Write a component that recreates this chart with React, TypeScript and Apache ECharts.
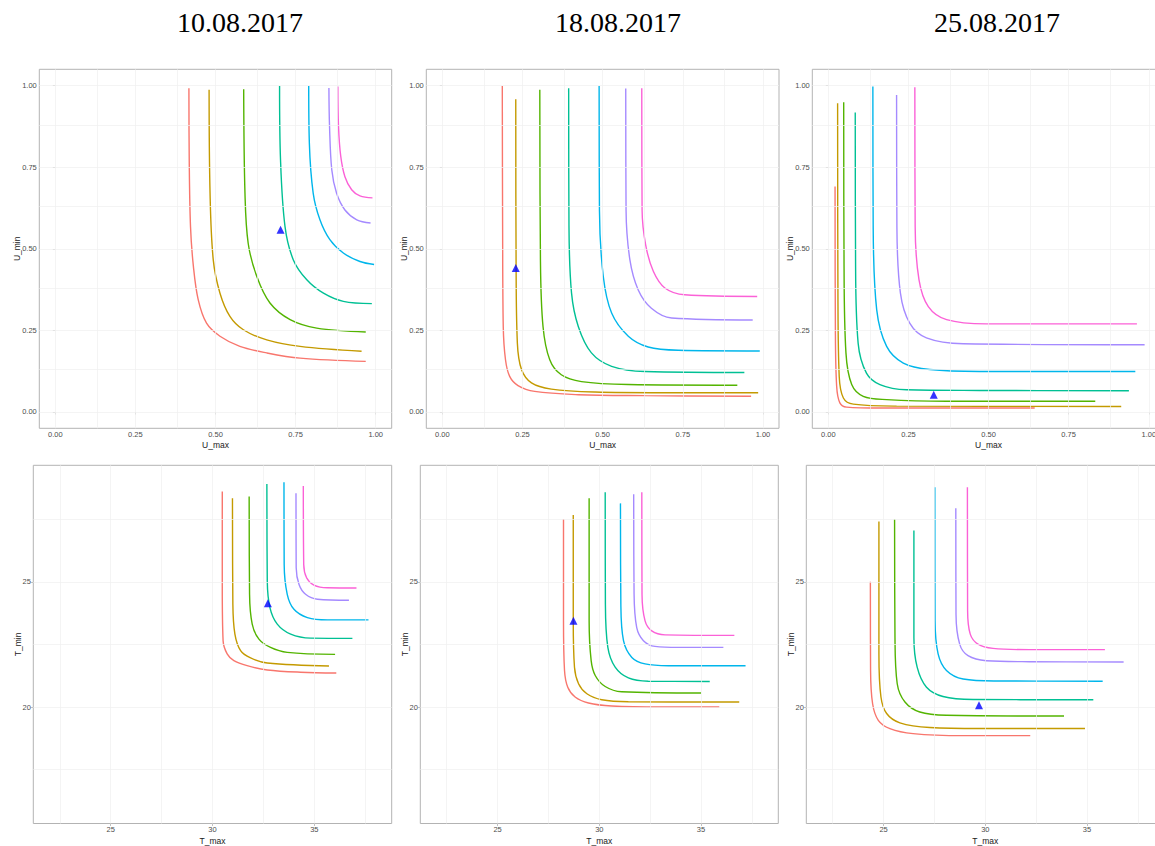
import React, { useEffect, useRef } from "react";
import * as echarts from "echarts";

// ---------- data ----------
const titles = ["10.08.2017", "18.08.2017", "25.08.2017"];
const curveColors = ["#F8766D", "#C49A00", "#53B400", "#00C094", "#00B6EB", "#A58AFF", "#FB61D7"];

const uTicks = [0, 0.25, 0.5, 0.75, 1];
const uGrid = [0, 0.125, 0.25, 0.375, 0.5, 0.625, 0.75, 0.875, 1];
const tTicksX = [25, 30, 35];
const tGridX = [22.5, 25, 27.5, 30, 32.5, 35, 37.5];
const tTicksY = [20, 25];
const tGridY = [17.5, 20, 22.5, 25, 27.5];

// U panels (U_max, U_min)
const u1008 = [
  [[0.417, 0.992], [0.418, 0.772], [0.422, 0.568], [0.431, 0.446], [0.446, 0.344], [0.472, 0.272], [0.514, 0.232], [0.576, 0.201], [0.66, 0.181], [0.764, 0.165], [0.969, 0.155]],
  [[0.48, 0.987], [0.483, 0.67], [0.493, 0.466], [0.514, 0.364], [0.545, 0.293], [0.587, 0.252], [0.66, 0.221], [0.764, 0.201], [0.956, 0.186]],
  [[0.588, 0.989], [0.592, 0.67], [0.602, 0.517], [0.629, 0.415], [0.67, 0.334], [0.733, 0.283], [0.816, 0.257], [0.969, 0.245]],
  [[0.7, 0.999], [0.703, 0.772], [0.717, 0.568], [0.743, 0.466], [0.785, 0.405], [0.837, 0.364], [0.899, 0.339], [0.988, 0.332]],
  [[0.791, 0.999], [0.793, 0.823], [0.805, 0.67], [0.826, 0.589], [0.857, 0.528], [0.899, 0.487], [0.951, 0.461], [0.995, 0.452]],
  [[0.854, 0.993], [0.856, 0.874], [0.863, 0.742], [0.878, 0.67], [0.904, 0.619], [0.941, 0.589], [0.984, 0.579]],
  [[0.882, 0.997], [0.884, 0.874], [0.891, 0.783], [0.904, 0.721], [0.925, 0.681], [0.951, 0.662], [0.99, 0.656]],
];
const u1808 = [
  [[0.187, 0.999], [0.188, 0.568], [0.19, 0.262], [0.197, 0.16], [0.21, 0.109], [0.236, 0.081], [0.288, 0.063], [0.424, 0.053], [0.632, 0.05], [0.963, 0.048]],
  [[0.229, 0.958], [0.23, 0.466], [0.234, 0.211], [0.247, 0.13], [0.278, 0.089], [0.34, 0.07], [0.476, 0.061], [0.684, 0.059], [0.985, 0.059]],
  [[0.304, 0.987], [0.306, 0.466], [0.314, 0.262], [0.335, 0.16], [0.371, 0.114], [0.434, 0.093], [0.58, 0.084], [0.92, 0.082]],
  [[0.394, 0.992], [0.395, 0.568], [0.403, 0.364], [0.424, 0.262], [0.465, 0.181], [0.528, 0.14], [0.632, 0.124], [0.942, 0.121]],
  [[0.489, 0.999], [0.49, 0.619], [0.502, 0.415], [0.528, 0.303], [0.58, 0.232], [0.642, 0.199], [0.736, 0.189], [0.99, 0.187]],
  [[0.572, 0.991], [0.573, 0.619], [0.585, 0.466], [0.611, 0.374], [0.652, 0.318], [0.715, 0.288], [0.968, 0.282]],
  [[0.622, 0.992], [0.623, 0.619], [0.634, 0.513], [0.658, 0.431], [0.694, 0.38], [0.756, 0.359], [0.982, 0.354]],
];
const u2508 = [
  [[0.021, 0.691], [0.022, 0.262], [0.026, 0.079], [0.036, 0.028], [0.057, 0.015], [0.161, 0.012], [0.644, 0.012]],
  [[0.029, 0.946], [0.03, 0.364], [0.034, 0.109], [0.047, 0.043], [0.078, 0.024], [0.213, 0.018], [0.914, 0.017]],
  [[0.048, 0.949], [0.049, 0.466], [0.055, 0.181], [0.073, 0.084], [0.109, 0.048], [0.182, 0.038], [0.369, 0.033], [0.833, 0.033]],
  [[0.084, 0.918], [0.085, 0.466], [0.093, 0.211], [0.119, 0.119], [0.161, 0.084], [0.244, 0.068], [0.472, 0.066], [0.938, 0.065]],
  [[0.139, 0.997], [0.14, 0.568], [0.151, 0.313], [0.182, 0.201], [0.234, 0.15], [0.317, 0.13], [0.472, 0.124], [0.958, 0.124]],
  [[0.213, 0.971], [0.214, 0.568], [0.225, 0.364], [0.254, 0.272], [0.306, 0.227], [0.421, 0.209], [0.987, 0.206]],
  [[0.27, 0.995], [0.271, 0.568], [0.283, 0.405], [0.312, 0.323], [0.369, 0.283], [0.493, 0.27], [0.963, 0.27]],
];

// T panels (T_max, T_min)
const t1008 = [
  [[30.48, 28.6], [30.48, 24.76], [30.52, 22.65], [30.72, 22.12], [31.05, 21.85], [31.7, 21.65], [32.69, 21.48], [34.33, 21.39], [36.08, 21.36]],
  [[30.98, 28.33], [31.0, 24.1], [31.1, 22.91], [31.38, 22.25], [31.87, 21.96], [32.69, 21.76], [35.72, 21.64]],
  [[31.8, 28.4], [31.82, 24.5], [31.95, 23.31], [32.28, 22.71], [32.85, 22.38], [33.67, 22.18], [36.02, 22.1]],
  [[32.67, 28.9], [32.69, 25.03], [32.82, 23.97], [33.18, 23.31], [33.84, 22.91], [34.82, 22.75], [36.87, 22.74]],
  [[33.51, 28.97], [33.52, 25.69], [33.67, 24.5], [34.0, 23.9], [34.66, 23.57], [35.64, 23.48], [37.66, 23.48]],
  [[34.1, 28.53], [34.11, 25.56], [34.25, 24.89], [34.57, 24.5], [35.15, 24.3], [36.7, 24.26]],
  [[34.46, 28.82], [34.48, 25.69], [34.62, 25.16], [34.98, 24.87], [35.64, 24.76], [37.07, 24.75]],
];
const t1808 = [
  [[28.24, 27.51], [28.24, 23.44], [28.29, 21.46], [28.45, 20.79], [28.81, 20.4], [29.47, 20.16], [30.61, 20.04], [33.07, 20.0], [35.9, 20.0]],
  [[28.72, 27.67], [28.72, 23.44], [28.78, 21.59], [28.98, 20.93], [29.39, 20.53], [30.12, 20.29], [31.43, 20.21], [36.88, 20.2]],
  [[29.5, 28.33], [29.5, 23.44], [29.6, 21.85], [29.8, 21.26], [30.29, 20.82], [31.1, 20.61], [35.0, 20.56]],
  [[30.29, 28.57], [30.3, 24.1], [30.42, 22.38], [30.78, 21.59], [31.43, 21.16], [32.41, 21.03], [35.43, 21.02]],
  [[31.04, 28.13], [31.06, 24.1], [31.19, 22.65], [31.6, 21.98], [32.25, 21.72], [33.4, 21.65], [37.19, 21.65]],
  [[31.69, 28.49], [31.71, 24.5], [31.84, 23.17], [32.17, 22.65], [32.74, 22.42], [33.89, 22.38], [36.1, 22.38]],
  [[32.09, 28.57], [32.1, 24.5], [32.25, 23.44], [32.58, 23.04], [33.23, 22.88], [36.64, 22.86]],
];
const t2508 = [
  [[24.35, 25.0], [24.36, 21.46], [24.46, 20.13], [24.74, 19.47], [25.31, 19.14], [26.45, 18.94], [28.91, 18.86], [32.21, 18.86]],
  [[24.77, 27.41], [24.77, 22.12], [24.87, 20.4], [25.15, 19.74], [25.8, 19.37], [27.27, 19.18], [29.72, 19.14], [34.9, 19.14]],
  [[25.54, 27.5], [25.56, 22.78], [25.67, 20.93], [26.05, 20.2], [26.78, 19.8], [28.09, 19.67], [33.87, 19.64]],
  [[26.49, 27.05], [26.49, 22.78], [26.65, 21.59], [27.11, 20.79], [27.92, 20.42], [29.4, 20.3], [35.31, 20.29]],
  [[27.52, 28.77], [27.53, 23.44], [27.68, 22.12], [28.09, 21.46], [28.91, 21.12], [30.54, 21.04], [35.77, 21.03]],
  [[28.55, 27.94], [28.56, 23.7], [28.74, 22.51], [29.15, 22.05], [30.05, 21.85], [32.17, 21.81], [36.8, 21.8]],
  [[29.12, 28.77], [29.13, 23.84], [29.26, 22.91], [29.64, 22.51], [30.38, 22.34], [32.17, 22.29], [35.88, 22.29]],
];

const uPoints = [[0.703, 0.558], [0.229, 0.441], [0.329, 0.053]];
const tPoints = [[32.72, 24.14], [28.73, 23.44], [29.69, 20.07]];

// ---------- layout ----------
const topGrids = [
  { left: 39.3, width: 352.4 },
  { left: 426.3, width: 352.7 },
  { left: 812.3, width: 352.5 },
];
const bottomGrids = [
  { left: 33.3, width: 358.4 },
  { left: 420.3, width: 358 },
  { left: 806.3, width: 358 },
];
const titleX = [240, 618, 997];

function buildOption() {
  const grid: any[] = [];
  const xAxis: any[] = [];
  const yAxis: any[] = [];
  const series: any[] = [];
  const labelStyle = { fontSize: 7.5, color: "#4d4d4d", fontFamily: "Liberation Sans" };
  const nameStyle = { fontSize: 8.5, color: "#1a1a1a", fontFamily: "Liberation Sans" };
  const tick = (vals: number[]) => ({
    show: true,
    length: 2.5,
    customValues: vals,
    lineStyle: { color: "#b3b3b3", width: 0.8 },
  });

  const panels = [
    { g: topGrids[0], top: 69.3, curves: u1008, pt: uPoints[0], kind: "u" },
    { g: topGrids[1], top: 69.3, curves: u1808, pt: uPoints[1], kind: "u" },
    { g: topGrids[2], top: 69.3, curves: u2508, pt: uPoints[2], kind: "u" },
    { g: bottomGrids[0], top: 465.3, curves: t1008, pt: tPoints[0], kind: "t" },
    { g: bottomGrids[1], top: 465.3, curves: t1808, pt: tPoints[1], kind: "t" },
    { g: bottomGrids[2], top: 465.3, curves: t2508, pt: tPoints[2], kind: "t" },
  ];

  panels.forEach((p, i) => {
    const isU = p.kind === "u";
    grid.push({
      left: p.g.left,
      width: p.g.width,
      top: p.top,
      height: 359,
      show: true,
      borderColor: "#b3b3b3",
      borderWidth: 1,
      backgroundColor: "#ffffff",
      containLabel: false,
    });
    xAxis.push({
      type: "value",
      gridIndex: i,
      min: isU ? -0.05 : 21.2,
      max: isU ? 1.05 : 38.8,
      axisLine: { show: false },
      axisTick: tick(isU ? uTicks : tTicksX),
      axisLabel: {
        ...labelStyle,
        margin: 2,
        customValues: isU ? uTicks : tTicksX,
        formatter: (v: number) => (isU ? v.toFixed(2) : String(Math.round(v))),
      },
      splitLine: { show: false },
      name: isU ? "U_max" : "T_max",
      nameLocation: "middle",
      nameGap: 12.5,
      nameMoveOverlap: false,
      nameTextStyle: nameStyle,
    });
    yAxis.push({
      type: "value",
      gridIndex: i,
      min: isU ? -0.05 : 15.35,
      max: isU ? 1.05 : 29.65,
      axisLine: { show: false },
      axisTick: tick(isU ? uTicks : tTicksY),
      axisLabel: {
        ...labelStyle,
        margin: 2.5,
        customValues: isU ? uTicks : tTicksY,
        formatter: (v: number) => (isU ? v.toFixed(2) : String(Math.round(v))),
      },
      splitLine: { show: false },
      name: isU ? "U_min" : "T_min",
      nameLocation: "middle",
      nameGap: isU ? 17.5 : 11,
      nameMoveOverlap: false,
      nameTextStyle: nameStyle,
    });
    const gx = isU ? uGrid : tGridX;
    const gy = isU ? uGrid : tGridY;
    series.push({
      type: "line",
      xAxisIndex: i,
      yAxisIndex: i,
      data: [],
      silent: true,
      z: 1,
      markLine: {
        silent: true,
        symbol: ["none", "none"],
        label: { show: false },
        animation: false,
        lineStyle: { color: "#efefef", width: 0.7, type: "solid" },
        data: [...gx.map((v) => ({ xAxis: v })), ...gy.map((v) => ({ yAxis: v }))],
      },
    });
    p.curves.forEach((c, k) => {
      series.push({
        type: "line",
        xAxisIndex: i,
        yAxisIndex: i,
        data: c,
        showSymbol: false,
        smooth: 0.35,
        z: 3,
        lineStyle: { color: curveColors[k], width: 1.4 },
        itemStyle: { color: curveColors[k] },
      });
    });
    series.push({
      type: "scatter",
      xAxisIndex: i,
      yAxisIndex: i,
      data: [p.pt],
      symbol: "triangle",
      symbolSize: 8,
      z: 5,
      itemStyle: { color: "#0000FF" },
    });
  });

  const graphic = titles.map((t, i) => ({
    type: "text",
    x: titleX[i],
    y: 22,
    style: {
      text: t,
      fontSize: 28,
      fontFamily: "Liberation Serif",
      fill: "#000",
      textAlign: "center",
      textVerticalAlign: "middle",
    },
  }));

  return {
    animation: false,
    backgroundColor: "#ffffff",
    grid,
    xAxis,
    yAxis,
    series,
    graphic,
  };
}

export default function App() {
  const ref = useRef<HTMLDivElement>(null);
  useEffect(() => {
    if (!ref.current) return;
    const chart = echarts.init(ref.current, undefined, { renderer: "svg" });
    chart.setOption(buildOption() as any);
    return () => chart.dispose();
  }, []);
  return (
    <div
      style={{
        position: "fixed",
        left: 0,
        top: 0,
        width: 1155,
        height: 846,
        overflow: "hidden",
        background: "#fff",
      }}
    >
      <div ref={ref} style={{ width: 1170, height: 846 }} />
    </div>
  );
}
